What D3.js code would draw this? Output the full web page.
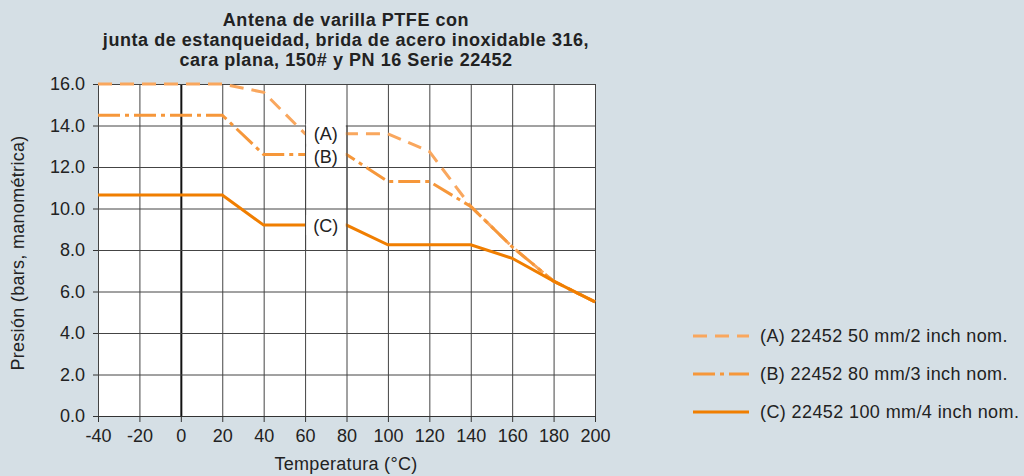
<!DOCTYPE html>
<html lang="es">
<head>
<meta charset="utf-8">
<title>Antena de varilla PTFE</title>
<script src="https://cdn.jsdelivr.net/npm/d3@7"></script>
<style>
  body { margin: 0; background: #d5dfe5; }
  svg text { font-family: "Liberation Sans", Arial, sans-serif; fill: #222; }
</style>
</head>
<body>
<script>
// data
var temps = [-40, -20, 0, 20, 40, 60, 80, 100, 120, 140, 160, 180, 200];
var serieA = [16.0, 16.0, 16.0, 16.0, 15.6, 13.6, 13.6, 13.6, 12.75, 10.1, 8.15, 6.5, 5.5];
var serieB = [14.5, 14.5, 14.5, 14.5, 12.6, 12.6, 12.6, 11.3, 11.3, 10.1, 8.15, 6.5, 5.5];
var serieC = [10.65, 10.65, 10.65, 10.65, 9.2, 9.2, 9.2, 8.25, 8.25, 8.25, 7.6, 6.5, 5.5];
var yTicks = [0, 2, 4, 6, 8, 10, 12, 14, 16];
var xTicks = [-40, -20, 0, 20, 40, 60, 80, 100, 120, 140, 160, 180, 200];
var seriesNames = ["(A) 22452 50 mm/2 inch nom.", "(B) 22452 80 mm/3 inch nom.", "(C) 22452 100 mm/4 inch nom."];
var seriesTags = ["(A)", "(B)", "(C)"];
var titleLines = ["Antena de varilla PTFE con", "junta de estanqueidad, brida de acero inoxidable 316,", "cara plana, 150# y PN 16 Serie 22452"];

var W = 1024, H = 476;
var pLeft = 98, pRight = 595, pTop = 84, pBottom = 416;

var svg = d3.select("body").append("svg").attr("width", W).attr("height", H);
svg.append("rect").attr("width", W).attr("height", H).attr("fill", "#d5dfe5");

var x = d3.scaleLinear().domain([-40, 200]).range([pLeft, pRight]);
var y = d3.scaleLinear().domain([0, 16]).range([pBottom, pTop]);

// plot background
svg.append("rect").attr("x", pLeft).attr("y", pTop)
  .attr("width", pRight - pLeft).attr("height", pBottom - pTop).attr("fill", "#fff");

// grid
svg.append("g").selectAll("line").data(xTicks).join("line")
  .attr("x1", d => x(d) + 0.5).attr("x2", d => x(d) + 0.5)
  .attr("y1", pTop).attr("y2", pBottom)
  .attr("stroke", d => d === 0 ? "#111" : "#444")
  .attr("stroke-width", d => d === 0 ? 2 : 1);
svg.append("g").selectAll("line").data(yTicks).join("line")
  .attr("x1", pLeft).attr("x2", pRight)
  .attr("y1", d => y(d) + 0.5).attr("y2", d => y(d) + 0.5)
  .attr("stroke", "#444").attr("stroke-width", 1);

// axes
var xAxis = d3.axisBottom(x).tickValues(xTicks).tickSize(6).tickPadding(7).tickFormat(d => String(d));
var gx = svg.append("g").attr("transform", "translate(0," + pBottom + ")").call(xAxis);
gx.select(".domain").attr("stroke", "#333");
gx.selectAll(".tick line").attr("stroke", "#333");
gx.selectAll("text").attr("font-size", 18).attr("fill", "#222").attr("font-family", "Liberation Sans, Arial, sans-serif");

var yAxis = d3.axisLeft(y).tickValues(yTicks).tickSize(5).tickPadding(8).tickFormat(d3.format(".1f"));
var gy = svg.append("g").attr("transform", "translate(" + pLeft + ",0)").call(yAxis);
gy.select(".domain").remove();
gy.selectAll(".tick line").attr("stroke", "#333");
gy.selectAll("text").attr("font-size", 18).attr("fill", "#222").attr("font-family", "Liberation Sans, Arial, sans-serif");

// series
var series = [
  { vals: serieA, color: "#f9a75e", dash: "14,8" },
  { vals: serieB, color: "#f6973a", dash: "22,5,4,5" },
  { vals: serieC, color: "#f07e00", dash: null }
];
var line = d3.line().x(d => x(d[0])).y(d => y(d[1]));
series.forEach(function (s) {
  svg.append("path")
    .datum(temps.map((t, i) => [t, s.vals[i]]))
    .attr("d", line)
    .attr("fill", "none")
    .attr("stroke", s.color)
    .attr("stroke-width", 3)
    .attr("stroke-dasharray", s.dash);
});

// inline tags with white gap
var tagY = [13.6, 12.5, 9.2];
tagY.forEach(function (v, i) {
  var cx = x(70);
  svg.append("rect").attr("x", cx - 20).attr("y", y(v) - 10)
    .attr("width", 40).attr("height", 20).attr("fill", "#fff");
  svg.append("text").attr("x", cx).attr("y", y(v) + 6.5)
    .attr("text-anchor", "middle").attr("font-size", 18).text(seriesTags[i]);
});
// gridlines that pass behind the tags
svg.append("g").selectAll("line").data([60, 80]).join("line")
  .attr("x1", d => x(d) + 0.5).attr("x2", d => x(d) + 0.5)
  .attr("y1", y(14)).attr("y2", y(8))
  .attr("stroke", "#444");

// legend
var legY = [336, 374, 412];
series.forEach(function (s, i) {
  svg.append("line").attr("x1", 693).attr("x2", 749)
    .attr("y1", legY[i]).attr("y2", legY[i])
    .attr("stroke", s.color).attr("stroke-width", 3)
    .attr("stroke-dasharray", i === 1 ? "22,5,4,5" : s.dash);
  svg.append("text").attr("x", 760).attr("y", legY[i] + 6)
    .attr("font-size", 18).attr("letter-spacing", 0.4).text(seriesNames[i]);
});

// titles
svg.append("text").attr("text-anchor", "middle").attr("font-weight", "bold").attr("font-size", 18)
  .attr("letter-spacing", 0.55)
  .selectAll("tspan").data(titleLines).join("tspan")
  .attr("x", 346).attr("y", (d, i) => 26 + i * 20).text(d => d);

svg.append("text").attr("x", 346).attr("y", 470).attr("text-anchor", "middle")
  .attr("font-size", 18).attr("letter-spacing", 0.3).text("Temperatura (°C)");

svg.append("text").attr("transform", "translate(24,253) rotate(-90)")
  .attr("text-anchor", "middle").attr("font-size", 18).attr("letter-spacing", 0.3)
  .text("Presión (bars, manométrica)");
</script>
</body>
</html>
